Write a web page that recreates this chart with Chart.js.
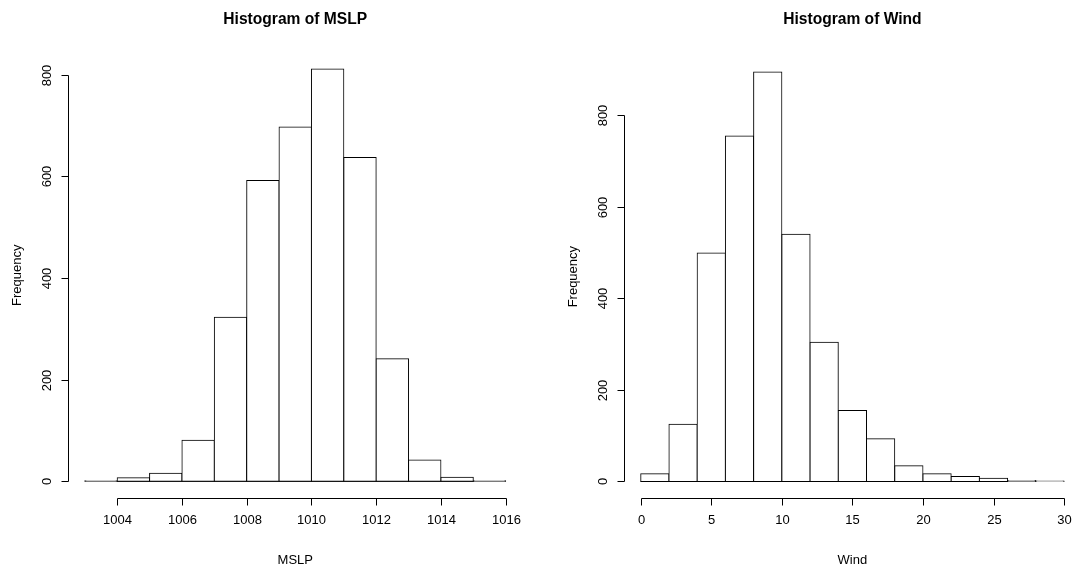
<!DOCTYPE html>
<html>
<head>
<meta charset="utf-8">
<script src="https://cdn.jsdelivr.net/npm/chart.js@4.4.1/dist/chart.umd.min.js"></script>
<style>
  html, body { margin: 0; padding: 0; background: #fff; width: 1072px; height: 570px; overflow: hidden; }
  .panel { position: absolute; top: 0; }
  #mslpBox { left: 0; }
  #windBox { left: 536px; }
</style>
</head>
<body>
<div class="panel" id="mslpBox"><canvas id="mslpChart" width="536" height="570"></canvas></div>
<div class="panel" id="windBox"><canvas id="windChart" width="560" height="570"></canvas></div>
<script>
// bin edges and counts
const mslpEdges = [1003, 1004, 1005, 1006, 1007, 1008, 1009, 1010, 1011, 1012, 1013, 1014, 1015, 1016];
const mslpCounts = [1, 7, 16, 81, 323, 592, 697, 811, 637, 241, 42, 8, 1];
const mslpTicks = [1004, 1006, 1008, 1010, 1012, 1014, 1016];

const windEdges = [0, 2, 4, 6, 8, 10, 12, 14, 16, 18, 20, 22, 24, 26, 28, 30];
const windCounts = [17, 125, 499, 755, 895, 540, 304, 155, 93, 34, 17, 11, 7, 2, 1];
const windTicks = [0, 5, 10, 15, 20, 25, 30];

const freqTicks = [0, 200, 400, 600, 800];

const FONT = "'Liberation Sans', Arial, Helvetica, sans-serif";

// R style axes: line only from first to last tick, ticks pointing out
const rAxes = {
    id: "rAxes",
    afterDraw(chart, args, opts){
        const {ctx, chartArea} = chart;
        const x = chart.scales.x, y = chart.scales.y;
        const snap = v => Math.round(v) + 0.5;
        ctx.save();
        ctx.strokeStyle = "#000";
        ctx.fillStyle = "#000";
        ctx.lineWidth = 1;
        ctx.font = "13px " + FONT;

        const xs = opts.xTicks.map(v => snap(x.getPixelForValue(v)));
        const yb = snap(chartArea.bottom);
        ctx.beginPath();
        ctx.moveTo(xs[0], yb);
        ctx.lineTo(xs[xs.length-1], yb);
        xs.forEach(p => { ctx.moveTo(p, yb); ctx.lineTo(p, yb + 7); });
        ctx.stroke();
        ctx.textAlign = "center";
        ctx.textBaseline = "middle";
        opts.xTicks.forEach((v, i) => ctx.fillText(String(v), xs[i], yb + 22));

        const ys = opts.yTicks.map(v => snap(y.getPixelForValue(v)));
        const xl = snap(chartArea.left);
        ctx.beginPath();
        ctx.moveTo(xl, ys[0]);
        ctx.lineTo(xl, ys[ys.length-1]);
        ys.forEach(p => { ctx.moveTo(xl, p); ctx.lineTo(xl - 7, p); });
        ctx.stroke();
        opts.yTicks.forEach((v, i) => {
            ctx.save();
            ctx.translate(xl - 21, ys[i]);
            ctx.rotate(-Math.PI / 2);
            ctx.fillText(String(v), 0, 0);
            ctx.restore();
        });
        ctx.restore();
    }
};

// R extends axis ranges by 4%
function ext(lo, hi){
    const d = (hi - lo) * 0.04;
    return [lo - d, hi + d];
}

function makeHist(id, cfg){
    const edges = cfg.edges, counts = cfg.counts;
    const bars = counts.map((c, i) => ({x: (edges[i] + edges[i+1]) / 2, y: c}));
    const xr = ext(edges[0], edges[edges.length-1]);
    const yr = ext(0, Math.max(...counts));

    return new Chart(document.getElementById(id), {
        type: "bar",
        data: {
            datasets: [
                {
                    data: bars,
                    backgroundColor: "#fff",
                    borderColor: "#000",
                    borderWidth: 1,
                    borderSkipped: false,
                    inflateAmount: 0.5,
                    barPercentage: 1,
                    categoryPercentage: 1
                },
                {
                    type: "line",
                    data: [{x: edges[0], y: 0}, {x: edges[edges.length-1], y: 0}],
                    borderColor: "#000",
                    borderWidth: 1,
                    pointRadius: 0
                }
            ]
        },
        plugins: [rAxes],
        options: {
            responsive: false,
            animation: false,
            layout: {padding: {left: 0, right: cfg.padRight, top: 0, bottom: 0}},
            scales: {
                x: {
                    type: "linear",
                    min: xr[0], max: xr[1],
                    offset: false,
                    grid: {display: false, offset: false},
                    border: {display: false},
                    ticks: {display: false},
                    title: {display: true, text: cfg.xTitle, color: "#000",
                        font: {family: FONT, size: 13}, padding: {top: 0, bottom: 2.2}},
                    afterFit: s => { s.height = 72.2; }
                },
                y: {
                    min: yr[0], max: yr[1],
                    grid: {display: false},
                    border: {display: false},
                    ticks: {display: false},
                    title: {display: true, text: "Frequency", color: "#000",
                        font: {family: FONT, size: 13}, padding: {top: cfg.yTitlePad, bottom: 0}},
                    afterFit: s => { s.width = cfg.yWidth; }
                }
            },
            plugins: {
                legend: {display: false},
                tooltip: {enabled: false},
                title: {
                    display: true,
                    text: cfg.title,
                    color: "#000",
                    fullSize: false,
                    font: {family: FONT, size: 15.6, weight: "bold"},
                    padding: {top: 10.6, bottom: cfg.titleBottom}
                },
                rAxes: {xTicks: cfg.xTicks, yTicks: freqTicks}
            }
        }
    });
}

makeHist("mslpChart", {
    edges: mslpEdges, counts: mslpCounts, xTicks: mslpTicks,
    title: "Histogram of MSLP", xTitle: "MSLP",
    padRight: 13.5, yWidth: 68, yTitlePad: 9.7, titleBottom: 23.3
});

makeHist("windChart", {
    edges: windEdges, counts: windCounts, xTicks: windTicks,
    title: "Histogram of Wind", xTitle: "Wind",
    padRight: 15, yWidth: 87.8, yTitlePad: 29.2, titleBottom: 26.2
});
</script>
</body>
</html>
